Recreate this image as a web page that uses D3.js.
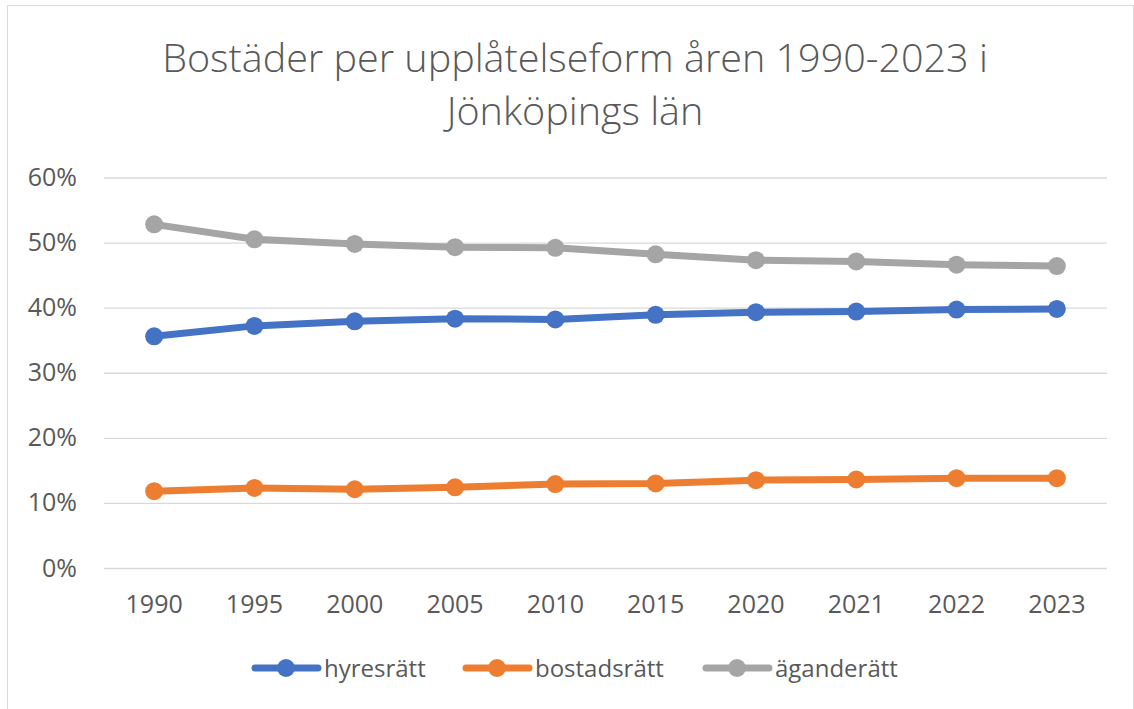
<!DOCTYPE html>
<html lang="sv">
<head>
    <meta charset="UTF-8">
    <title>Bostäder per upplåtelseform</title>
    <style>
        body {
            margin: 0;
            background-color: #fff;
        }
        svg {
            display: block;
            font-family: "Open Sans", Arial, sans-serif;
        }
    </style>
</head>
<body>
    <div id="chart"></div>

    <script src="https://d3js.org/d3.v7.min.js"></script>
    <script>
        const years = ['1990', '1995', '2000', '2005', '2010', '2015', '2020', '2021', '2022', '2023'];
        const hyresratt = [0.356, 0.372, 0.379, 0.383, 0.382, 0.389, 0.393, 0.394, 0.397, 0.398];
        const bostadsratt = [0.118, 0.123, 0.121, 0.124, 0.129, 0.130, 0.135, 0.136, 0.138, 0.138];
        const aganderatt = [0.528, 0.505, 0.498, 0.493, 0.492, 0.482, 0.473, 0.471, 0.466, 0.464];
        const seriesNames = ['hyresrätt', 'bostadsrätt', 'äganderätt'];
        const yTicks = [0, 0.1, 0.2, 0.3, 0.4, 0.5, 0.6];

        const series = [
            { name: seriesNames[0], values: hyresratt, color: '#4472C4' },
            { name: seriesNames[1], values: bostadsratt, color: '#ED7D31' },
            { name: seriesNames[2], values: aganderatt, color: '#A5A5A5' }
        ];

        const width = 1134;
        const height = 709;
        const textColor = '#595959';

        const svg = d3.select('#chart')
            .append('svg')
            .attr('width', width)
            .attr('height', height);

        // chart frame
        svg.append('rect')
            .attr('x', 7.5)
            .attr('y', 5.5)
            .attr('width', 1126)
            .attr('height', 712)
            .attr('fill', '#fff')
            .attr('stroke', '#d9d9d9');

        // title, squeezed a bit to get the narrow Calibri look
        const title = svg.append('g');
        const t1 = title.append('text')
            .attr('x', 0)
            .attr('y', 72)
            .attr('text-anchor', 'middle')
            .attr('font-size', 38)
            .attr('font-weight', 300)
            .attr('fill', textColor)
            .text('Bostäder per upplåtelseform åren 1990-2023 i');
        title.append('text')
            .attr('x', 0)
            .attr('y', 125)
            .attr('text-anchor', 'middle')
            .attr('font-size', 38)
            .attr('font-weight', 300)
            .attr('fill', textColor)
            .text('Jönköpings län');
        const sx = 826 / t1.node().getComputedTextLength();
        title.attr('transform', `translate(575,0) scale(${sx},1)`);

        const x = d3.scaleBand()
            .domain(years)
            .range([104, 1107]);

        const y = d3.scaleLinear()
            .domain([0, 0.6])
            .range([568, 177.5]);

        // gridlines + y labels
        const yAxis = svg.append('g')
            .attr('transform', 'translate(104,0)')
            .call(d3.axisLeft(y)
                .tickValues(yTicks)
                .tickFormat(d3.format('.0%'))
                .tickSize(-1003)
                .tickPadding(27));
        yAxis.select('.domain').remove();
        yAxis.selectAll('line')
            .attr('stroke', '#d9d9d9')
            .attr('stroke-width', 1.3);
        yAxis.selectAll('text')
            .attr('font-size', 25)
            .attr('font-family', '"Open Sans", Arial, sans-serif')
            .attr('fill', textColor);

        // x labels
        const xAxis = svg.append('g')
            .attr('transform', 'translate(0,568)')
            .call(d3.axisBottom(x).tickSize(0).tickPadding(27));
        xAxis.select('.domain').remove();
        xAxis.selectAll('text')
            .attr('font-size', 25)
            .attr('font-family', '"Open Sans", Arial, sans-serif')
            .attr('fill', textColor);

        const cx = d => x(d) + x.bandwidth() / 2;

        const line = d3.line()
            .x((d, i) => cx(years[i]))
            .y(d => y(d));

        series.forEach(s => {
            svg.append('path')
                .datum(s.values)
                .attr('fill', 'none')
                .attr('stroke', s.color)
                .attr('stroke-width', 7)
                .attr('stroke-linejoin', 'round')
                .attr('stroke-linecap', 'round')
                .attr('d', line);

            svg.append('g')
                .selectAll('circle')
                .data(s.values)
                .join('circle')
                .attr('cx', (d, i) => cx(years[i]))
                .attr('cy', d => y(d))
                .attr('r', 9)
                .attr('fill', s.color);
        });

        // legend
        const legendX = [255, 466, 706];
        const legend = svg.append('g')
            .selectAll('g')
            .data(series)
            .join('g')
            .attr('transform', (d, i) => `translate(${legendX[i]},668)`);

        legend.append('line')
            .attr('x1', 0)
            .attr('x2', 63)
            .attr('stroke', d => d.color)
            .attr('stroke-width', 7)
            .attr('stroke-linecap', 'round');
        legend.append('circle')
            .attr('cx', 31)
            .attr('r', 9)
            .attr('fill', d => d.color);
        legend.append('text')
            .attr('x', 69)
            .attr('y', 9)
            .attr('font-size', 24)
            .attr('fill', textColor)
            .text(d => d.name);
    </script>
</body>
</html>
